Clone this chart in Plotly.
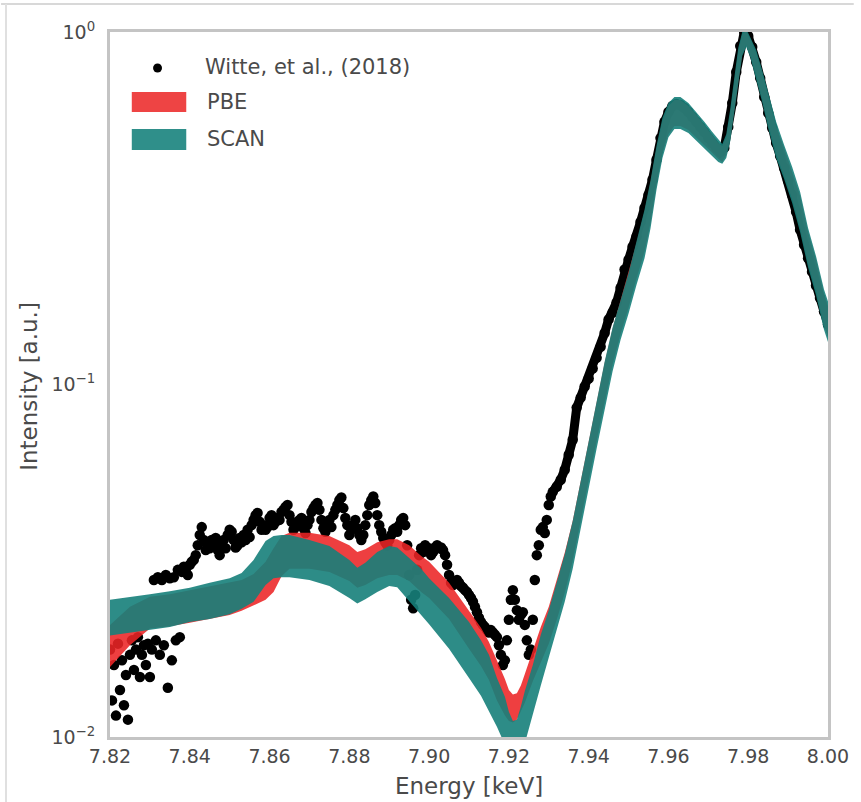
import plotly.graph_objects as go

# ---------------- data ----------------
# Experimental spectrum (Witte et al., 2018): energy [keV], normalised intensity
exp_energy = [
    7.8200, 7.8205, 7.8210, 7.8215, 7.8220, 7.8225, 7.8230, 7.8235, 7.8240, 7.8245,
    7.8250, 7.8255, 7.8260, 7.8265, 7.8270, 7.8275, 7.8280, 7.8285, 7.8290, 7.8295,
    7.8300, 7.8305, 7.8310, 7.8315, 7.8320, 7.8325, 7.8330, 7.8335, 7.8340, 7.8345,
    7.8350, 7.8355, 7.8360, 7.8365, 7.8370, 7.8375, 7.8380, 7.8385, 7.8390, 7.8395,
    7.8400, 7.8405, 7.8410, 7.8415, 7.8420, 7.8425, 7.8430, 7.8435, 7.8440, 7.8445,
    7.8450, 7.8455, 7.8460, 7.8465, 7.8470, 7.8475, 7.8480, 7.8485, 7.8490, 7.8495,
    7.8500, 7.8505, 7.8510, 7.8515, 7.8520, 7.8525, 7.8530, 7.8535, 7.8540, 7.8545,
    7.8550, 7.8555, 7.8560, 7.8565, 7.8570, 7.8575, 7.8580, 7.8585, 7.8590, 7.8595,
    7.8600, 7.8605, 7.8610, 7.8615, 7.8620, 7.8625, 7.8630, 7.8635, 7.8640, 7.8645,
    7.8650, 7.8655, 7.8660, 7.8665, 7.8670, 7.8675, 7.8680, 7.8685, 7.8690, 7.8695,
    7.8700, 7.8705, 7.8710, 7.8715, 7.8720, 7.8725, 7.8730, 7.8735, 7.8740, 7.8745,
    7.8750, 7.8755, 7.8760, 7.8765, 7.8770, 7.8775, 7.8780, 7.8785, 7.8790, 7.8795,
    7.8800, 7.8805, 7.8810, 7.8815, 7.8820, 7.8825, 7.8830, 7.8835, 7.8840, 7.8845,
    7.8850, 7.8855, 7.8860, 7.8865, 7.8870, 7.8875, 7.8880, 7.8885, 7.8890, 7.8895,
    7.8900, 7.8905, 7.8910, 7.8915, 7.8920, 7.8925, 7.8930, 7.8935, 7.8940, 7.8945,
    7.8950, 7.8955, 7.8960, 7.8965, 7.8970, 7.8975, 7.8980, 7.8985, 7.8990, 7.8995,
    7.9000, 7.9005, 7.9010, 7.9015, 7.9020, 7.9025, 7.9030, 7.9035, 7.9040, 7.9045,
    7.9050, 7.9055, 7.9060, 7.9065, 7.9070, 7.9075, 7.9080, 7.9085, 7.9090, 7.9095,
    7.9100, 7.9105, 7.9110, 7.9115, 7.9120, 7.9125, 7.9130, 7.9135, 7.9140, 7.9145,
    7.9150, 7.9155, 7.9160, 7.9165, 7.9170, 7.9175, 7.9180, 7.9185, 7.9190, 7.9195,
    7.9200, 7.9205, 7.9210, 7.9215, 7.9220, 7.9225, 7.9230, 7.9235, 7.9240, 7.9245,
    7.9250, 7.9255, 7.9260, 7.9265, 7.9270, 7.9275, 7.9280, 7.9285, 7.9290, 7.9295,
    7.9300, 7.9305,
    7.931, 7.932, 7.933, 7.934, 7.935, 7.936, 7.937, 7.938, 7.939, 7.940,
    7.941, 7.942, 7.943, 7.944, 7.945, 7.946, 7.947, 7.948, 7.949, 7.950,
    7.951, 7.952, 7.953, 7.954, 7.955, 7.956, 7.957, 7.958, 7.959, 7.960,
    7.961, 7.962, 7.963, 7.964, 7.965, 7.966, 7.967, 7.968, 7.969, 7.970,
    7.971, 7.972, 7.973, 7.974, 7.975, 7.976, 7.977, 7.978, 7.979, 7.980,
    7.981, 7.982, 7.983, 7.984, 7.985, 7.986, 7.987, 7.988, 7.989, 7.990,
    7.991, 7.992, 7.993, 7.994, 7.995, 7.996, 7.997, 7.998, 7.999, 8.000,
]
exp_intensity = [
    0.0177, 0.0127, 0.0160, 0.0115, 0.0184, 0.0136, 0.0165, 0.0123, 0.0150, 0.0112,
    0.0171, 0.0188, 0.0155, 0.0177, 0.0192, 0.0148, 0.0171, 0.0182, 0.0160, 0.0184,
    0.0148, 0.0177, 0.0279, 0.0188, 0.0284, 0.0171, 0.0279, 0.0182, 0.0288, 0.0138,
    0.0282, 0.0165, 0.0284, 0.0188, 0.0298, 0.0192, 0.0294, 0.0304, 0.0298, 0.0288,
    0.0308, 0.0314, 0.0318, 0.0328, 0.0350, 0.0374, 0.0394, 0.0362, 0.0339, 0.0350,
    0.0343, 0.0362, 0.0350, 0.0367, 0.0339, 0.0328, 0.0350, 0.0362, 0.0343, 0.0374,
    0.0387, 0.0382, 0.0362, 0.0345, 0.0350, 0.0367, 0.0357, 0.0374, 0.0362, 0.0387,
    0.0369, 0.0399, 0.0413, 0.0426, 0.0432, 0.0408, 0.0387, 0.0399, 0.0387, 0.0394,
    0.0418, 0.0426, 0.0399, 0.0408, 0.0418, 0.0413, 0.0435, 0.0441, 0.0449, 0.0455,
    0.0426, 0.0408, 0.0387, 0.0394, 0.0408, 0.0413, 0.0418, 0.0391, 0.0379, 0.0399,
    0.0413, 0.0435, 0.0446, 0.0455, 0.0461, 0.0441, 0.0413, 0.0391, 0.0382, 0.0399,
    0.0413, 0.0394, 0.0426, 0.0441, 0.0455, 0.0470, 0.0478, 0.0446, 0.0418, 0.0399,
    0.0374, 0.0387, 0.0399, 0.0413, 0.0391, 0.0374, 0.0362, 0.0374, 0.0399, 0.0426,
    0.0455, 0.0470, 0.0481, 0.0461, 0.0426, 0.0399, 0.0382, 0.0367, 0.0357, 0.0350,
    0.0362, 0.0374, 0.0387, 0.0391, 0.0382, 0.0399, 0.0413, 0.0418, 0.0399, 0.0350,
    0.0288, 0.0245, 0.0232, 0.0253, 0.0298, 0.0328, 0.0343, 0.0335, 0.0350, 0.0339,
    0.0343, 0.0328, 0.0335, 0.0345, 0.0350, 0.0343, 0.0345, 0.0339, 0.0328, 0.0308,
    0.0288, 0.0274, 0.0270, 0.0274, 0.0279, 0.0274, 0.0268, 0.0265, 0.0261, 0.0258,
    0.0253, 0.0248, 0.0242, 0.0234, 0.0226, 0.0218, 0.0212, 0.0208, 0.0205, 0.0201,
    0.0198, 0.0201, 0.0198, 0.0195, 0.0192, 0.0182, 0.0171, 0.0160, 0.0165, 0.0188,
    0.0215, 0.0245, 0.0261, 0.0245, 0.0229, 0.0215, 0.0222, 0.0226, 0.0208, 0.0188,
    0.0171, 0.0177, 0.0215, 0.0279, 0.0328, 0.0350, 0.0387, 0.0394, 0.0379, 0.0413,
    0.0455, 0.0481,
    0.0496, 0.0513, 0.0537, 0.0573, 0.0632, 0.0697, 0.0860, 0.0918, 0.0987, 0.104,
    0.111, 0.119, 0.128, 0.140, 0.153, 0.160, 0.171, 0.188, 0.212, 0.226,
    0.246, 0.263, 0.289, 0.317, 0.345, 0.381, 0.434, 0.500, 0.556, 0.593,
    0.617, 0.625, 0.621, 0.609, 0.593, 0.574, 0.556, 0.538, 0.520, 0.500,
    0.484, 0.469, 0.457, 0.469, 0.538, 0.629, 0.770, 0.913, 1.000, 0.974,
    0.907, 0.822, 0.740, 0.654, 0.589, 0.534, 0.484, 0.445, 0.411, 0.379,
    0.345, 0.309, 0.275, 0.249, 0.228, 0.209, 0.191, 0.176, 0.161, 0.148,
]

# Theory bands (PBE, SCAN): energy grid with lower / upper envelopes
th_energy = [
    7.820, 7.825, 7.830, 7.835, 7.840, 7.845, 7.850, 7.853, 7.856, 7.859,
    7.861, 7.863, 7.865, 7.870, 7.875, 7.880, 7.882, 7.884, 7.887, 7.890,
    7.892, 7.895, 7.898, 7.900, 7.905, 7.910, 7.913, 7.915, 7.917, 7.919,
    7.920, 7.921, 7.922, 7.923, 7.924, 7.926, 7.928, 7.930, 7.932, 7.934,
    7.936, 7.938, 7.940, 7.942, 7.944, 7.946, 7.948, 7.950, 7.952, 7.954,
    7.9555, 7.957, 7.9585, 7.960, 7.9615, 7.963, 7.965, 7.967, 7.969, 7.971,
    7.9725, 7.9735, 7.9745, 7.9755, 7.9765, 7.9775, 7.9785, 7.9795, 7.9805, 7.982,
    7.9835, 7.985, 7.987, 7.989, 7.991, 7.993, 7.995, 7.997, 7.999, 8.000,
]
scan_hi = [
    0.0245, 0.0250, 0.0254, 0.0259, 0.0265, 0.0274, 0.0282, 0.0292, 0.0318, 0.0360,
    0.0372, 0.0374, 0.0374, 0.0362, 0.0348, 0.0318, 0.0302, 0.0312, 0.0335, 0.0348,
    0.0345, 0.0322, 0.0300, 0.0282, 0.0248, 0.0212, 0.0188, 0.0171, 0.0147, 0.0130,
    0.0118, 0.0111, 0.0112, 0.0122, 0.0135, 0.0160, 0.0195, 0.0229, 0.0277, 0.0330,
    0.0410, 0.0534, 0.0692, 0.0900, 0.116, 0.145, 0.174, 0.207, 0.255, 0.313,
    0.379, 0.475, 0.571, 0.629, 0.654, 0.654, 0.629, 0.593, 0.556, 0.520,
    0.494, 0.481, 0.513, 0.605, 0.740, 0.901, 1.000, 1.020, 0.967, 0.889,
    0.780, 0.676, 0.556, 0.478, 0.415, 0.352, 0.278, 0.231, 0.186, 0.172,
]
scan_lo = [
    0.0194, 0.0197, 0.0201, 0.0205, 0.0212, 0.0216, 0.0223, 0.0231, 0.0242, 0.0270,
    0.0282, 0.0284, 0.0284, 0.0279, 0.0268, 0.0248, 0.0239, 0.0246, 0.0258, 0.0268,
    0.0266, 0.0242, 0.0222, 0.0209, 0.0178, 0.0147, 0.0131, 0.0118, 0.0107, 0.0095,
    0.0089, 0.0083, 0.0084, 0.0090, 0.0096, 0.0115, 0.0140, 0.0168, 0.0203, 0.0242,
    0.0300, 0.0389, 0.0507, 0.0658, 0.0854, 0.109, 0.134, 0.159, 0.192, 0.228,
    0.277, 0.357, 0.439, 0.503, 0.531, 0.531, 0.517, 0.494, 0.469, 0.445,
    0.428, 0.423, 0.439, 0.491, 0.586, 0.712, 0.855, 0.907, 0.850, 0.740,
    0.633, 0.534, 0.439, 0.383, 0.328, 0.271, 0.215, 0.179, 0.143, 0.132,
]
pbe_hi = [
    0.0208, 0.0234, 0.0250, 0.0254, 0.0261, 0.0268, 0.0275, 0.0279, 0.0290, 0.0314,
    0.0343, 0.0372, 0.0380, 0.0380, 0.0372, 0.0350, 0.0335, 0.0341, 0.0357, 0.0364,
    0.0364, 0.0350, 0.0326, 0.0314, 0.0274, 0.0229, 0.0204, 0.0186, 0.0165, 0.0146,
    0.0136, 0.0132, 0.0133, 0.0140, 0.0151, 0.0177, 0.0205, 0.0234, 0.0279, 0.0333,
    0.0410, 0.0534, 0.0692, 0.0900, 0.115, 0.144, 0.174, 0.207, 0.252, 0.309,
    0.374, 0.466, 0.559, 0.617, 0.641, 0.641, 0.617, 0.582, 0.545, 0.510,
    0.484, 0.475, 0.503, 0.589, 0.722, 0.877, 0.987, 1.007, 0.955, 0.872,
    0.765, 0.659, 0.541, 0.469, 0.403, 0.343, 0.271, 0.226, 0.181, 0.167,
]
pbe_lo = [
    0.0158, 0.0182, 0.0203, 0.0206, 0.0211, 0.0216, 0.0222, 0.0228, 0.0236, 0.0245,
    0.0258, 0.0286, 0.0300, 0.0300, 0.0294, 0.0277, 0.0265, 0.0270, 0.0282, 0.0288,
    0.0288, 0.0277, 0.0258, 0.0248, 0.0216, 0.0178, 0.0159, 0.0145, 0.0127, 0.0115,
    0.0111, 0.0110, 0.0112, 0.0118, 0.0125, 0.0144, 0.0162, 0.0184, 0.0215, 0.0256,
    0.0316, 0.0410, 0.0534, 0.0692, 0.0894, 0.114, 0.139, 0.165, 0.200, 0.238,
    0.287, 0.368, 0.454, 0.513, 0.541, 0.541, 0.527, 0.503, 0.478, 0.454,
    0.436, 0.428, 0.448, 0.503, 0.601, 0.731, 0.867, 0.919, 0.861, 0.755,
    0.645, 0.549, 0.451, 0.390, 0.336, 0.278, 0.220, 0.184, 0.147, 0.136,
]

x_ticks = [7.82, 7.84, 7.86, 7.88, 7.90, 7.92, 7.94, 7.96, 7.98, 8.00]
x_ticktext = ["7.82", "7.84", "7.86", "7.88", "7.90", "7.92", "7.94", "7.96", "7.98", "8.00"]
y_ticks = [0.01, 0.1, 1.0]
y_ticktext = ["10<sup>−2</sup>", "10<sup>−1</sup>", "10<sup>0</sup>"]

legend_labels = ["Witte, et al., (2018)", "PBE", "SCAN"]

# ---------------- styles ----------------
FONT = "DejaVu Sans, Liberation Sans, Arial, sans-serif"
TXT = "#4a4a4a"
SPINE = "#c4c4c4"
RED_FILL = "rgba(236,36,38,0.88)"
TEAL_FILL = "rgba(22,127,122,0.90)"
RED_LEG = "#ee4444"
TEAL_LEG = "#2f8f8a"

fig = go.Figure()

# experimental points (bottom layer)
fig.add_trace(go.Scatter(
    x=exp_energy, y=exp_intensity, mode="markers",
    marker=dict(color="black", size=10.5, line=dict(width=0)),
    name=legend_labels[0], showlegend=False, hoverinfo="skip"))
# continuous stroke through the smooth high-energy part of the same data
smooth = [(e, i) for e, i in zip(exp_energy, exp_intensity) if e >= 7.931]
fig.add_trace(go.Scatter(
    x=[p[0] for p in smooth], y=[p[1] for p in smooth], mode="lines",
    line=dict(color="black", width=9), showlegend=False, hoverinfo="skip"))

# PBE band
fig.add_trace(go.Scatter(
    x=th_energy + th_energy[::-1], y=pbe_hi + pbe_lo[::-1],
    fill="toself", fillcolor=RED_FILL, mode="lines", line=dict(width=0),
    name=legend_labels[1], showlegend=False, hoverinfo="skip"))
# SCAN band
fig.add_trace(go.Scatter(
    x=th_energy + th_energy[::-1], y=scan_hi + scan_lo[::-1],
    fill="toself", fillcolor=TEAL_FILL, mode="lines", line=dict(width=0),
    name=legend_labels[2], showlegend=False, hoverinfo="skip"))

# ---------------- layout ----------------
L, R, T, B = 110, 26, 32, 65
W, H = 861, 802
PW, PH = W - L - R, H - T - B


def px(xp):
    return (xp - L) / PW


def py(yp):
    return (H - B - yp) / PH


shapes = [
    # manual legend symbols
    dict(type="circle", xref="paper", yref="paper",
         x0=px(153.5), x1=px(162.5), y0=py(72.5), y1=py(63.5),
         fillcolor="black", line=dict(width=0)),
    dict(type="rect", xref="paper", yref="paper",
         x0=px(132), x1=px(187), y0=py(112), y1=py(92),
         fillcolor=RED_LEG, line=dict(width=0)),
    dict(type="rect", xref="paper", yref="paper",
         x0=px(132), x1=px(187), y0=py(150), y1=py(129),
         fillcolor=TEAL_LEG, line=dict(width=0)),
    # faint outer frame of the cropped figure
    dict(type="line", xref="paper", yref="paper", x0=px(0), x1=px(W),
         y0=py(4), y1=py(4), line=dict(color="#d8d8d8", width=2)),
    dict(type="line", xref="paper", yref="paper", x0=px(5), x1=px(5),
         y0=py(4), y1=py(H), line=dict(color="#e0e0e0", width=2)),
]

annotations = [
    dict(text=legend_labels[0], x=px(204), y=py(67), xref="paper", yref="paper",
         xanchor="left", yanchor="middle", showarrow=False,
         font=dict(family=FONT, size=21, color=TXT)),
    dict(text=legend_labels[1], x=px(206), y=py(102), xref="paper", yref="paper",
         xanchor="left", yanchor="middle", showarrow=False,
         font=dict(family=FONT, size=21, color=TXT)),
    dict(text=legend_labels[2], x=px(206), y=py(139), xref="paper", yref="paper",
         xanchor="left", yanchor="middle", showarrow=False,
         font=dict(family=FONT, size=21, color=TXT)),
    dict(text="Energy [keV]", x=0.5, y=py(786), xref="paper", yref="paper",
         xanchor="center", yanchor="middle", showarrow=False,
         font=dict(family=FONT, size=23, color=TXT)),
    dict(text="Intensity [a.u.]", x=px(28), y=py(386), xref="paper", yref="paper",
         xanchor="center", yanchor="middle", showarrow=False, textangle=-90,
         font=dict(family=FONT, size=23, color=TXT)),
]

fig.update_layout(
    width=W, height=H, autosize=False,
    margin=dict(l=L, r=R, t=T, b=B, pad=0),
    paper_bgcolor="white", plot_bgcolor="white",
    showlegend=False,
    font=dict(family=FONT, color=TXT, size=20),
    shapes=shapes, annotations=annotations,
    xaxis=dict(range=[7.82, 8.00], tickmode="array", tickvals=x_ticks,
               ticktext=x_ticktext, showgrid=False, zeroline=False,
               showline=True, mirror=True, linecolor=SPINE, linewidth=3,
               ticks="", tickfont=dict(family=FONT, size=19, color=TXT),
               ticklabelstandoff=0),
    yaxis=dict(type="log", range=[-2, 0], tickmode="array", tickvals=y_ticks,
               ticktext=y_ticktext, showgrid=False, zeroline=False,
               showline=True, mirror=True, linecolor=SPINE, linewidth=3,
               ticks="", tickfont=dict(family=FONT, size=19, color=TXT),
               ticklabelstandoff=8),
)

fig.write_html("out.html")
